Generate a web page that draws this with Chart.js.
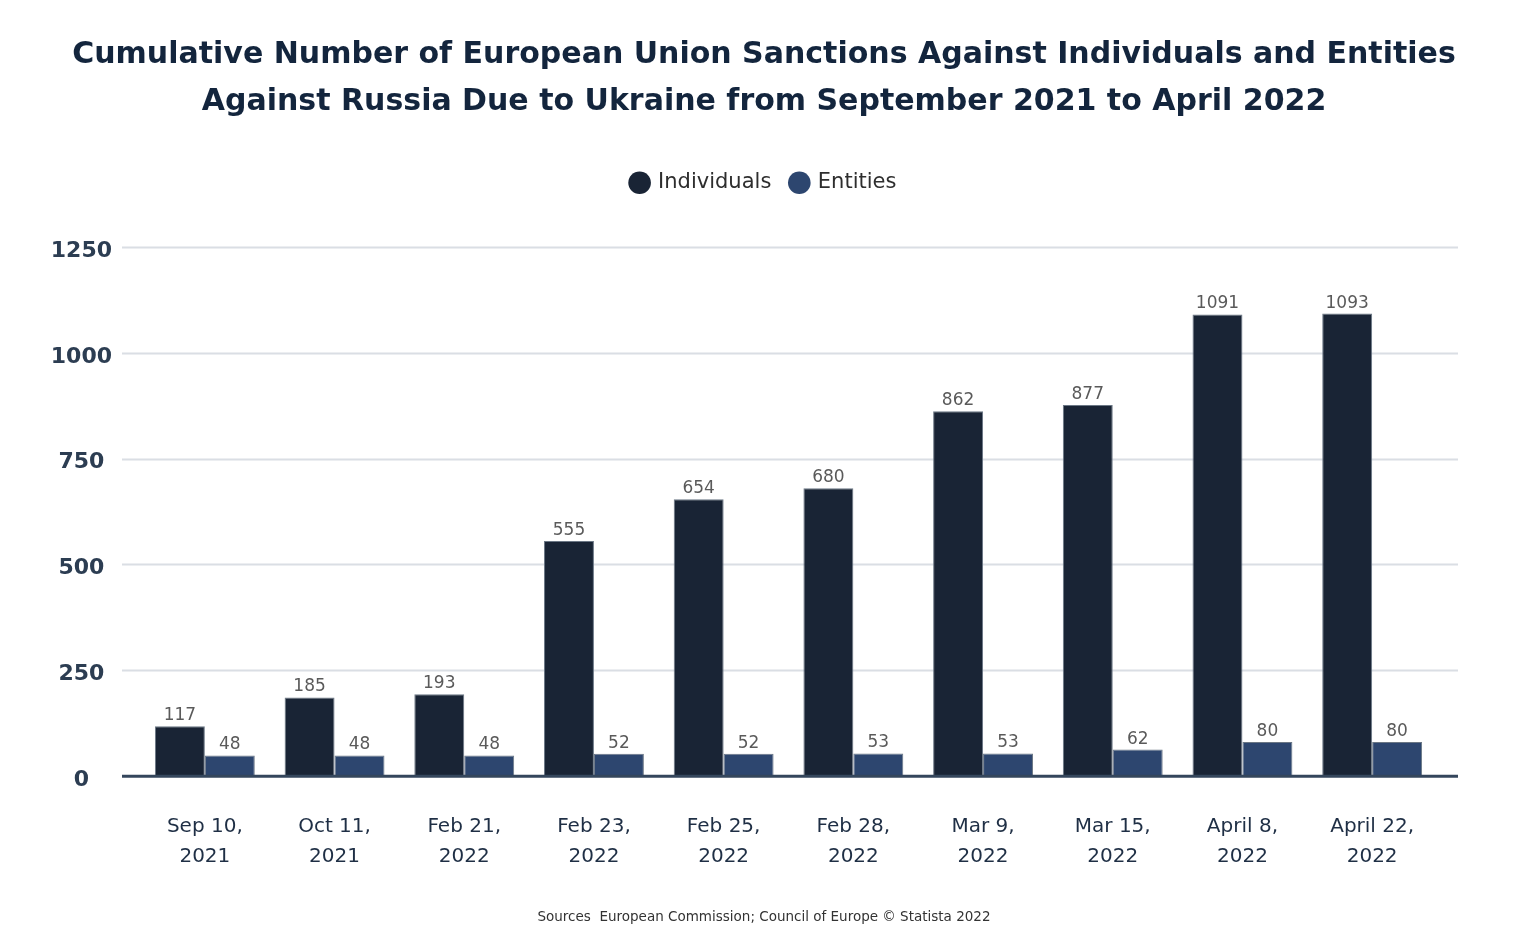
<!DOCTYPE html>
<html>
<head>
<meta charset="utf-8">
<script src="https://cdn.jsdelivr.net/npm/chart.js@4"></script>
<style>
  html, body { margin: 0; padding: 0; background: #ffffff; }
  #wrap { width: 1528px; height: 942px; }
</style>
</head>
<body>
<div id="wrap"><canvas id="c" width="1528" height="942"></canvas></div>
<script>
const categories = [
  ["Sep 10,", "2021"], ["Oct 11,", "2021"], ["Feb 21,", "2022"], ["Feb 23,", "2022"],
  ["Feb 25,", "2022"], ["Feb 28,", "2022"], ["Mar 9,", "2022"], ["Mar 15,", "2022"],
  ["April 8,", "2022"], ["April 22,", "2022"]
];
const individuals = [117, 185, 193, 555, 654, 680, 862, 877, 1091, 1093];
const entities = [48, 48, 48, 52, 52, 53, 53, 62, 80, 80];
const yTicks = [0, 250, 500, 750, 1000, 1250];
const titleLines = [
  "Cumulative Number of European Union Sanctions Against Individuals and Entities",
  "Against Russia Due to Ukraine from September 2021 to April 2022"
];
const sourceText = "Sources  European Commission; Council of Europe \u00A9 Statista 2022";

const FONT = "'DejaVu Sans', 'Noto Sans', sans-serif";
const EXT_L = 18, EXT_R = 21;

const gridPlugin = {
  id: 'extGrid',
  beforeDatasetsDraw(chart) {
    const {ctx, chartArea, scales} = chart;
    const y = scales.y;
    ctx.save();
    ctx.strokeStyle = '#dadee4';
    ctx.lineWidth = 2;
    y.ticks.forEach(t => {
      if (t.value === 0) return;
      const py = Math.round(y.getPixelForValue(t.value)) + 0.5;
      ctx.beginPath();
      ctx.moveTo(chartArea.left - EXT_L, py);
      ctx.lineTo(chartArea.right + EXT_R, py);
      ctx.stroke();
    });
    ctx.restore();
  },
  afterDatasetsDraw(chart) {
    const {ctx, chartArea, scales} = chart;
    const y = scales.y;
    ctx.save();
    const py0 = y.getPixelForValue(0);
    ctx.strokeStyle = '#34465c';
    ctx.lineWidth = 3;
    ctx.beginPath();
    ctx.moveTo(chartArea.left - EXT_L, py0 + 0.5);
    ctx.lineTo(chartArea.right + EXT_R, py0 + 0.5);
    ctx.stroke();
    // value labels
    ctx.font = "17px " + FONT;
    ctx.fillStyle = '#5a5a5a';
    ctx.textAlign = 'center';
    ctx.textBaseline = 'bottom';
    chart.data.datasets.forEach((ds, di) => {
      const meta = chart.getDatasetMeta(di);
      meta.data.forEach((bar, i) => {
        ctx.fillText(String(ds.data[i]), bar.x, bar.y - 2);
      });
    });
    ctx.restore();
  }
};

const spacer = (dir, size) => ({
  type: 'linear',
  position: dir,
  display: true,
  grid: { display: false, drawTicks: false },
  border: { display: false },
  ticks: { display: false },
  afterFit(scale) {
    if (dir === 'top' || dir === 'bottom') scale.height = size; else scale.width = size;
  }
});

new Chart(document.getElementById('c'), {
  type: 'bar',
  data: {
    labels: categories,
    datasets: [
      { label: 'Individuals', data: individuals, backgroundColor: '#192435',
        borderColor: '#6b7785', borderWidth: {top: 1, left: 1, right: 1, bottom: 0} },
      { label: 'Entities', data: entities, backgroundColor: '#2d466f',
        borderColor: '#6b7785', borderWidth: {top: 1, left: 1, right: 1, bottom: 0} }
    ]
  },
  options: {
    responsive: false,
    animation: false,
    events: [],
    layout: { padding: { left: 0, right: 0, top: 32, bottom: 16 } },
    datasets: { bar: { categoryPercentage: 0.77, barPercentage: 1.0 } },
    plugins: {
      title: {
        display: true,
        text: titleLines,
        color: '#13253d',
        font: { family: FONT, size: 30, weight: 'bold', lineHeight: 1.57 },
        padding: { top: 0, bottom: 26 }
      },
      legend: {
        display: true,
        position: 'top',
        labels: {
          usePointStyle: true,
          pointStyle: 'circle',
          boxWidth: 16,
          boxHeight: 16,
          color: '#2e2e2e',
          font: { family: FONT, size: 21 },
          padding: 20,
          generateLabels(chart) {
            const items = Chart.defaults.plugins.legend.labels.generateLabels(chart);
            items.forEach(it => { it.lineWidth = 0; it.strokeStyle = it.fillStyle; });
            return items;
          }
        }
      },
      subtitle: {
        display: true,
        position: 'bottom',
        text: sourceText,
        color: '#333333',
        font: { family: FONT, size: 13.5 },
        padding: { top: 2, bottom: 0 }
      },
      tooltip: { enabled: false }
    },
    scales: {
      x: {
        grid: { display: false, drawTicks: false },
        border: { display: false },
        ticks: {
          color: '#1f2f45',
          font: { family: FONT, size: 20, lineHeight: 1.5 },
          padding: 36,
          maxRotation: 0,
          autoSkip: false
        }
      },
      xTopSpacer: spacer('top', 44),
      y: {
        min: 0,
        max: 1250,
        afterFit(scale) { scale.width = 140; },
        afterBuildTicks(scale) { scale.ticks = yTicks.map(v => ({ value: v })); },
        grid: { display: false, drawTicks: false },
        border: { display: false },
        ticks: {
          color: '#2c3d52',
          font: { family: FONT, size: 22, weight: 'bold' },
          crossAlign: 'center',
          padding: 28,
          labelOffset: 4,
          callback: (v) => String(v)
        }
      },
      yRightSpacer: spacer('right', 91)
    }
  },
  plugins: [gridPlugin]
});
</script>
</body>
</html>
